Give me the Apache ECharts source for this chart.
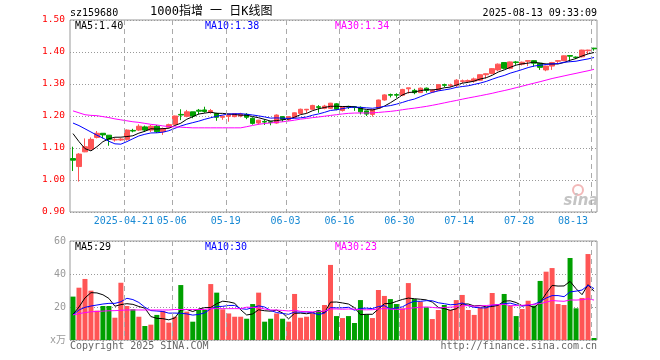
<!DOCTYPE html>
<html><head><meta charset="utf-8">
<script src="https://cdn.jsdelivr.net/npm/echarts@6/dist/echarts.min.js"></script>
<style>html,body{margin:0;padding:0;background:#fff}#c{width:660px;height:360px}</style>
</head><body><div id="c"></div>
<script>
const dates = [
'2025-04-08','2025-04-09','2025-04-10','2025-04-11','2025-04-14','2025-04-15','2025-04-16','2025-04-17','2025-04-18','2025-04-21',
'2025-04-22','2025-04-23','2025-04-24','2025-04-25','2025-04-28','2025-04-29','2025-04-30','2025-05-06','2025-05-07','2025-05-08',
'2025-05-09','2025-05-12','2025-05-13','2025-05-14','2025-05-15','2025-05-16','2025-05-19','2025-05-20','2025-05-21','2025-05-22',
'2025-05-23','2025-05-26','2025-05-27','2025-05-28','2025-05-29','2025-05-30','2025-06-03','2025-06-04','2025-06-05','2025-06-06',
'2025-06-09','2025-06-10','2025-06-11','2025-06-12','2025-06-13','2025-06-16','2025-06-17','2025-06-18','2025-06-19','2025-06-20',
'2025-06-23','2025-06-24','2025-06-25','2025-06-26','2025-06-27','2025-06-30','2025-07-01','2025-07-02','2025-07-03','2025-07-04',
'2025-07-07','2025-07-08','2025-07-09','2025-07-10','2025-07-11','2025-07-14','2025-07-15','2025-07-16','2025-07-17','2025-07-18',
'2025-07-21','2025-07-22','2025-07-23','2025-07-24','2025-07-25','2025-07-28','2025-07-29','2025-07-30','2025-07-31','2025-08-01',
'2025-08-04','2025-08-05','2025-08-06','2025-08-07','2025-08-08','2025-08-11','2025-08-12','2025-08-13'];

const opens = [1.067,1.042,1.088,1.096,1.133,1.146,1.140,1.125,1.125,1.127,
1.155,1.156,1.166,1.156,1.168,1.151,1.165,1.174,1.205,1.199,
1.213,1.218,1.219,1.211,1.208,1.196,1.199,1.198,1.200,1.205,
1.193,1.178,1.183,1.182,1.178,1.198,1.188,1.196,1.208,1.219,
1.221,1.229,1.224,1.224,1.238,1.217,1.230,1.229,1.227,1.216,
1.205,1.224,1.250,1.267,1.267,1.265,1.285,1.280,1.273,1.287,
1.275,1.280,1.298,1.295,1.296,1.308,1.308,1.309,1.312,1.329,
1.333,1.344,1.367,1.349,1.369,1.362,1.371,1.373,1.365,1.344,
1.356,1.371,1.373,1.389,1.384,1.385,1.404,1.412];
const closes = [1.062,1.081,1.104,1.127,1.146,1.141,1.127,1.127,1.128,1.156,
1.153,1.168,1.156,1.168,1.151,1.160,1.173,1.200,1.203,1.213,
1.200,1.215,1.214,1.217,1.196,1.199,1.205,1.207,1.206,1.196,
1.177,1.187,1.181,1.180,1.203,1.190,1.198,1.210,1.221,1.221,
1.233,1.227,1.231,1.240,1.221,1.229,1.228,1.227,1.213,1.206,
1.220,1.250,1.266,1.265,1.265,1.283,1.288,1.273,1.287,1.280,
1.280,1.298,1.296,1.297,1.312,1.310,1.311,1.316,1.329,1.332,
1.348,1.362,1.349,1.369,1.367,1.368,1.373,1.365,1.352,1.356,
1.367,1.373,1.388,1.387,1.383,1.406,1.406,1.410];
const lows = [1.028,0.995,1.087,1.096,1.130,1.130,1.107,1.120,1.122,1.123,
1.149,1.153,1.150,1.150,1.147,1.141,1.162,1.173,1.187,1.196,
1.193,1.205,1.210,1.207,1.185,1.188,1.182,1.196,1.196,1.190,
1.173,1.173,1.172,1.171,1.176,1.182,1.185,1.193,1.207,1.209,
1.219,1.210,1.221,1.222,1.218,1.214,1.222,1.216,1.205,1.200,
1.198,1.222,1.248,1.258,1.257,1.262,1.270,1.268,1.272,1.273,
1.273,1.278,1.290,1.290,1.290,1.302,1.303,1.304,1.310,1.317,
1.330,1.340,1.346,1.346,1.360,1.358,1.356,1.354,1.344,1.340,
1.344,1.363,1.371,1.370,1.378,1.383,1.393,1.404];
const highs = [1.104,1.084,1.130,1.133,1.153,1.146,1.140,1.131,1.131,1.158,
1.160,1.174,1.170,1.172,1.172,1.164,1.176,1.201,1.221,1.219,
1.213,1.222,1.229,1.222,1.210,1.201,1.207,1.209,1.210,1.209,
1.196,1.188,1.190,1.185,1.205,1.200,1.199,1.211,1.223,1.222,
1.235,1.234,1.235,1.241,1.240,1.230,1.232,1.230,1.230,1.217,
1.222,1.251,1.268,1.270,1.271,1.285,1.288,1.285,1.289,1.289,
1.284,1.299,1.301,1.301,1.315,1.314,1.314,1.320,1.330,1.333,
1.350,1.364,1.368,1.370,1.372,1.370,1.374,1.374,1.366,1.357,
1.369,1.374,1.389,1.389,1.386,1.407,1.407,1.413];
const volumes = [26.3,31.7,37.0,29.9,17.8,20.6,20.6,13.5,34.7,20.6,
18.6,14.1,8.5,9.3,15.2,17.6,10.5,14.1,33.3,17.2,
11.1,18.2,18.2,33.9,28.7,18.6,16.1,14.1,14.1,12.9,
21.8,28.7,11.1,12.9,16.1,12.9,11.1,27.9,13.5,14.1,
16.1,17.8,21.2,45.5,14.5,13.3,14.5,10.3,24.2,15.6,
13.3,30.3,26.7,24.8,21.8,19.2,34.5,24.8,23.2,19.8,
12.7,18.2,21.2,18.2,24.2,27.3,18.2,15.2,19.8,19.8,
28.5,21.8,27.9,20.8,14.5,18.8,23.8,20.8,35.8,41.4,
43.6,21.8,21.2,49.7,19.2,25.5,52.1,1.2];

// moving-average values at the start of the window (their windows reach before the first shown day)
const ma5Head = [1.145,1.120,1.098,1.091];
const ma10Head = [1.178,1.170,1.160,1.150,1.140,1.131,1.121,1.113,1.112];
const ma30Head = [1.216,1.210,1.204,1.202,1.201,1.198,1.195,1.191,1.188,1.185,1.182,1.180,1.177,1.174,1.172,1.169,1.167,1.166,1.165,1.164,1.163,1.163,1.163,1.163,1.163,1.163,1.163,1.163,1.163];
const volMa5Head = [15.5,20.0,25.5,28.7];
const volMa10Head = [15.2,18.2,19.8,20.6,21.2,21.8,22.2,22.2,23.2];
const volMa30Head = [15.2,16.0,16.6,17.1,17.3,17.5,17.7,17.8,18.0,18.2,18.2,18.2,18.2,18.2,18.2,18.2,18.2,18.5,18.5,18.5,18.5,18.5,18.5,19.0,19.0,19.0,19.0,19.0,19.0];

const labelDates = ['2025-04-21','2025-05-06','2025-05-19','2025-06-03','2025-06-16','2025-06-30','2025-07-14','2025-07-28','2025-08-13'];
const priceTicks = {min:0.9, max:1.5, step:0.1};
const volTicks = {min:0, max:60, step:20};

function movingAvg(vals, n, head){
  return vals.map((v,i)=>{
    if(i < n-1) return head[i];
    let s=0; for(let k=i-n+1;k<=i;k++) s+=vals[k];
    return +(s/n).toFixed(4);
  });
}
const candles = dates.map((d,i)=>[opens[i],closes[i],lows[i],highs[i]]);
const RED='#ff5555', GREEN='#00a000';
const volData = volumes.map((v,i)=>({value:v,itemStyle:{color: closes[i]>=opens[i]?RED:GREEN}}));
const labelIdx = labelDates.map(d=>dates.indexOf(d));
const MONO = "'DejaVu Sans Mono','Noto Sans CJK SC',monospace";

const chart = echarts.init(document.getElementById('c'), null, {renderer:'canvas'});
const hSplit = {show:true, lineStyle:{color:'#999', type:[1,2], width:1}};

// dashed vertical date lines: drawn at the right edge of the day before each labelled day
function dateLine(params, api){
  const c = api.coord([api.value(0), api.value(1)]);
  const band = api.size([1, 0])[0];
  const x = Math.round(c[0] + band/2) + 0.5;
  const cs = params.coordSys;
  return {type:'line', silent:true, shape:{x1:x, y1:cs.y, x2:x, y2:cs.y+cs.height},
          style:{stroke:'#aaa', lineDash:[5,4], lineWidth:1}, z2:100};
}

function txt(text,x,y,fill,size,align){
  return {type:'text', x:x, y:y, silent:true, style:{text:text, fill:fill, font:size+'px '+MONO, textAlign:align||'left', textVerticalAlign:'middle'}};
}

chart.setOption({
  animation:false,
  backgroundColor:'#fff',
  grid:[
    {left:70, top:20, width:527, height:192, show:true, borderColor:'#999', borderWidth:1, backgroundColor:'transparent'},
    {left:70, top:241, width:527, height:99, show:true, borderColor:'#999', borderWidth:1, backgroundColor:'transparent'}
  ],
  xAxis:[
    {type:'category', gridIndex:0, data:dates, boundaryGap:true,
     axisLine:{show:false}, axisTick:{show:false}, splitLine:{show:false},
     axisLabel:{interval:(i)=>labelIdx.indexOf(i)>=0, showMaxLabel:true, alignMaxLabel:'right', hideOverlap:false,
       color:'#1a8ad4', fontSize:10, fontFamily:MONO, margin:4, padding:[0,6,0,0],
       formatter:(v)=> v===labelDates[0] ? v : v.slice(5)}},
    {type:'category', gridIndex:1, data:dates, boundaryGap:true,
     axisLine:{show:false}, axisTick:{show:false}, axisLabel:{show:false}, splitLine:{show:false}}
  ],
  yAxis:[
    {type:'value', gridIndex:0, min:priceTicks.min, max:priceTicks.max, interval:priceTicks.step, scale:true,
     axisLine:{show:false}, axisTick:{show:false}, splitLine:hSplit,
     axisLabel:{color:'#ff0000', fontSize:9.5, fontFamily:MONO, margin:5, formatter:(v)=>v.toFixed(2)}},
    {type:'value', gridIndex:1, min:volTicks.min, max:volTicks.max, interval:volTicks.step,
     axisLine:{show:false}, axisTick:{show:false}, splitLine:hSplit,
     axisLabel:{color:'#999', fontSize:10, fontFamily:MONO, margin:4, formatter:(v)=> v===0 ? 'x万' : String(v)}}
  ],
  series:[
    {type:'custom', xAxisIndex:0, yAxisIndex:0, renderItem:dateLine, silent:true, z:10, clip:false,
     encode:{x:0, y:1}, data:labelIdx.map(i=>[dates[i-1], priceTicks.max])},
    {type:'custom', xAxisIndex:1, yAxisIndex:1, renderItem:dateLine, silent:true, z:10, clip:false,
     encode:{x:0, y:1}, data:labelIdx.map(i=>[dates[i-1], volTicks.max])},
    {type:'candlestick', xAxisIndex:0, yAxisIndex:0, data:candles, barWidth:5, z:3,
     itemStyle:{color:RED, color0:GREEN, borderColor:RED, borderColor0:GREEN, borderWidth:1}},
    {type:'line', xAxisIndex:0, yAxisIndex:0, data:movingAvg(closes,5,ma5Head), symbol:'none', lineStyle:{color:'#000',width:1}, z:5},
    {type:'line', xAxisIndex:0, yAxisIndex:0, data:movingAvg(closes,10,ma10Head), symbol:'none', lineStyle:{color:'#0000ff',width:1}, z:5},
    {type:'line', xAxisIndex:0, yAxisIndex:0, data:movingAvg(closes,30,ma30Head), symbol:'none', lineStyle:{color:'#ff00ff',width:1}, z:5},
    {type:'bar', xAxisIndex:1, yAxisIndex:1, data:volData, barWidth:5, z:3},
    {type:'line', xAxisIndex:1, yAxisIndex:1, data:movingAvg(volumes,5,volMa5Head), symbol:'none', lineStyle:{color:'#000',width:1}, z:5},
    {type:'line', xAxisIndex:1, yAxisIndex:1, data:movingAvg(volumes,10,volMa10Head), symbol:'none', lineStyle:{color:'#0000ff',width:1}, z:5},
    {type:'line', xAxisIndex:1, yAxisIndex:1, data:movingAvg(volumes,30,volMa30Head), symbol:'none', lineStyle:{color:'#ff00ff',width:1}, z:5}
  ],
  graphic:{elements:[
    txt('sz159680',70,13,'#000',10),
    txt('1000指增 一 日K线图',150,12,'#000',12),
    txt('2025-08-13 09:33:09',597,13,'#000',10,'right'),
    txt('MA5:1.40',75,26,'#000',10),
    txt('MA10:1.38',205,26,'#0000ff',10),
    txt('MA30:1.34',335,26,'#ff00ff',10),
    txt('MA5:29',75,247,'#000',10),
    txt('MA10:30',205,247,'#0000ff',10),
    txt('MA30:23',335,247,'#ff00ff',10),
    txt('Copyright 2025 SINA.COM',70,346,'#666',10),
    txt('http://finance.sina.com.cn',597,346,'#666',10,'right'),
    {type:'circle', silent:true, shape:{cx:578, cy:190, r:5}, style:{fill:'none', stroke:'#f2b8b8', lineWidth:2}},
    {type:'text', x:581, y:201, silent:true, style:{text:'sina', fill:'#c4c4c4', font:'italic bold 15px "DejaVu Sans"', textAlign:'center', textVerticalAlign:'middle'}}
  ]}
});
</script></body></html>
